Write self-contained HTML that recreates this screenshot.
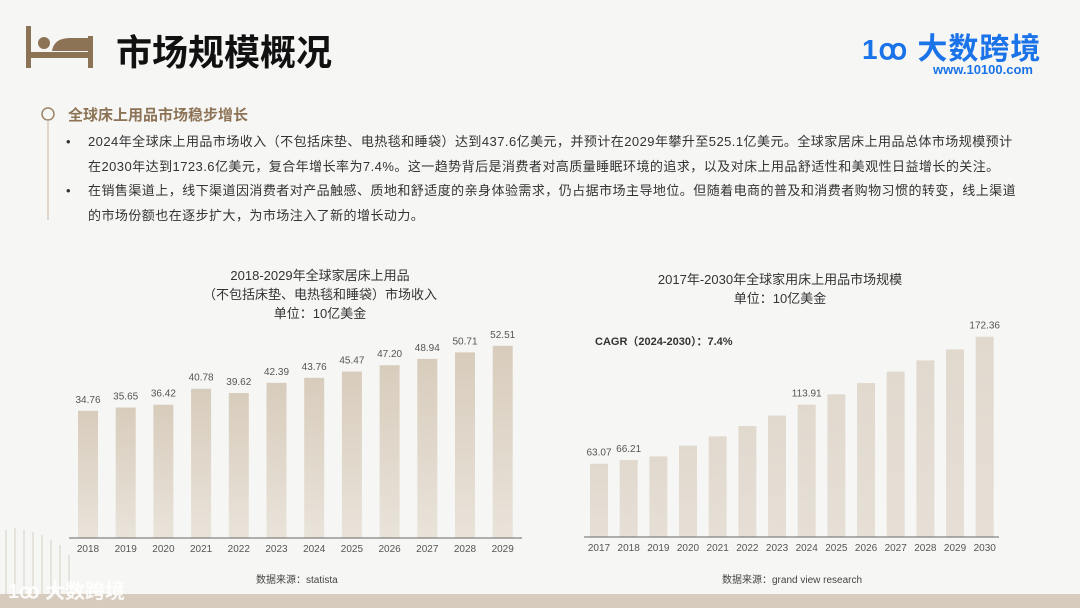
<!DOCTYPE html>
<html><head><meta charset="utf-8">
<style>
body{margin:0;width:1080px;height:608px;overflow:hidden;background:#f6f6f4;font-family:"Liberation Sans","Noto Sans CJK SC",sans-serif;position:relative}
.abs{position:absolute}
.t{font-size:13px;color:#333;line-height:25px;letter-spacing:0.45px;white-space:nowrap}
</style></head><body>
<svg class="abs" style="left:0;top:0" width="1080" height="608">
  <defs>
    <linearGradient id="bg" x1="0" y1="0" x2="0" y2="1"><stop offset="0" stop-color="#d8ccbc"/><stop offset="1" stop-color="#e9e3da"/></linearGradient>
    <linearGradient id="bg2" x1="0" y1="0" x2="0" y2="1"><stop offset="0" stop-color="#e1d9ce"/><stop offset="1" stop-color="#e6dfd6"/></linearGradient>
  </defs>
  <g fill="#8d7356">
    <rect x="26" y="26" width="5" height="42"/><rect x="88" y="36" width="5" height="32"/>
    <rect x="26" y="52" width="67" height="6"/><circle cx="44" cy="43" r="6"/><path d="M52 51 Q54 38 70 38 L88 38 L88 51Z"/>
  </g>
  <rect x="0" y="594" width="1080" height="14" fill="#d6cbbc"/>
  <g stroke="#e6e3dc" stroke-width="2">
    <line x1="6" y1="530" x2="6" y2="594"/><line x1="15" y1="528" x2="15" y2="594"/><line x1="24" y1="530" x2="24" y2="594"/><line x1="33" y1="532" x2="33" y2="594"/><line x1="42" y1="535" x2="42" y2="594"/><line x1="51" y1="540" x2="51" y2="594"/><line x1="60" y1="545" x2="60" y2="594"/><line x1="69" y1="555" x2="69" y2="594"/>
  </g>
  <circle cx="48" cy="114" r="6" fill="none" stroke="#9b8468" stroke-width="1.5"/>
  <line x1="48" y1="120" x2="48" y2="220" stroke="#c9b9a5" stroke-width="1"/>
  <g id="c1"></g>
  <g id="c2"></g>
</svg>
<div class="abs" style="left:116px;top:24px;font-size:36px;font-weight:bold;color:#111">市场规模概况</div>
<div class="abs" style="left:862px;top:24px;font-size:30px;font-weight:bold;color:#1a73e8;letter-spacing:1px"><span style="font-size:28px">1ꝏ</span> 大数跨境</div>
<div class="abs" style="left:933px;top:62px;font-size:13px;font-weight:bold;color:#1a73e8">www.10100.com</div>
<div class="abs" style="left:68px;top:104px;font-size:15px;font-weight:bold;color:#8d7356">全球床上用品市场稳步增长</div>
<div class="abs t" style="left:66px;top:129px">•</div>
<div class="abs t" style="left:88px;top:129px">2024年全球床上用品市场收入（不包括床垫、电热毯和睡袋）达到437.6亿美元，并预计在2029年攀升至525.1亿美元。全球家居床上用品总体市场规模预计<br>在2030年达到1723.6亿美元，复合年增长率为7.4%。这一趋势背后是消费者对高质量睡眠环境的追求，以及对床上用品舒适性和美观性日益增长的关注。</div>
<div class="abs t" style="left:66px;top:178px">•</div>
<div class="abs t" style="left:88px;top:178px">在销售渠道上，线下渠道因消费者对产品触感、质地和舒适度的亲身体验需求，仍占据市场主导地位。但随着电商的普及和消费者购物习惯的转变，线上渠道<br>的市场份额也在逐步扩大，为市场注入了新的增长动力。</div>
<div class="abs" style="left:170px;top:266px;width:300px;text-align:center;font-size:13px;line-height:19px;color:#333">2018-2029年全球家居床上用品<br>（不包括床垫、电热毯和睡袋）市场收入<br>单位：10亿美金</div>
<div class="abs" style="left:640px;top:270px;width:280px;text-align:center;font-size:13px;line-height:19px;color:#333">2017年-2030年全球家用床上用品市场规模<br>单位：10亿美金</div>
<div class="abs" style="left:595px;top:333px;font-size:11px;font-weight:bold;color:#333">CAGR（2024-2030）：7.4%</div>
<div class="abs" style="left:256px;top:571px;font-size:10px;color:#444">数据来源：statista</div>
<div class="abs" style="left:722px;top:571px;font-size:10px;color:#444">数据来源：grand view research</div>
<div class="abs" style="left:8px;top:575px;font-size:20px;font-weight:bold;color:#fff;opacity:.9">1ꝏ 大数跨境</div>
<script>
const yearsL=["2018","2019","2020","2021","2022","2023","2024","2025","2026","2027","2028","2029"];
const valuesL=[34.76,35.65,36.42,40.78,39.62,42.39,43.76,45.47,47.20,48.94,50.71,52.51];
const labelsL=["34.76","35.65","36.42","40.78","39.62","42.39","43.76","45.47","47.20","48.94","50.71","52.51"];
const yearsR=["2017","2018","2019","2020","2021","2022","2023","2024","2025","2026","2027","2028","2029","2030"];
const valuesR=[63.07,66.21,69.4,78.6,86.6,95.5,104.5,113.91,122.8,132.5,142.3,152.0,161.5,172.36];
const labelsR=["63.07","66.21","","","","","","113.91","","","","","","172.36"];
const NS="http://www.w3.org/2000/svg";
function mk(p,tag,a){const e=document.createElementNS(NS,tag);for(const k in a)e.setAttribute(k,a[k]);p.appendChild(e);return e;}
function chart(g,cats,vals,labs,o){
  const y=v=>o.base-v*o.scale, x=i=>o.x0+i*o.step;
  cats.forEach((c,i)=>{
    const r=mk(g,'rect',{x:x(i),y:y(vals[i]),width:o.bw,height:o.base-y(vals[i]),fill:o.fill});
    
    
    if(labs[i]){const t=mk(g,'text',{x:x(i)+o.bw/2,y:y(vals[i])-8,'text-anchor':'middle','font-size':10,fill:'#555'});t.textContent=labs[i];
    
    }
    const l=mk(g,'text',{x:x(i)+o.bw/2,y:o.base+14,'text-anchor':'middle','font-size':10,fill:'#555'});l.textContent=c;
    
    
  });
  const ax=mk(g,'line',{x1:o.ax0,x2:o.ax1,y1:o.base,y2:o.base,stroke:'#666','stroke-width':1});
  
  
}
chart(document.getElementById('c1'),yearsL,valuesL,labelsL,{base:538,scale:3.66,x0:78,step:37.7,bw:20,ax0:69,ax1:522,fill:'url(#bg)'});
chart(document.getElementById('c2'),yearsR,valuesR,labelsR,{base:537,scale:1.162,x0:590,step:29.67,bw:18,ax0:584,ax1:999,fill:'url(#bg2)'});
</script>
</body></html>
